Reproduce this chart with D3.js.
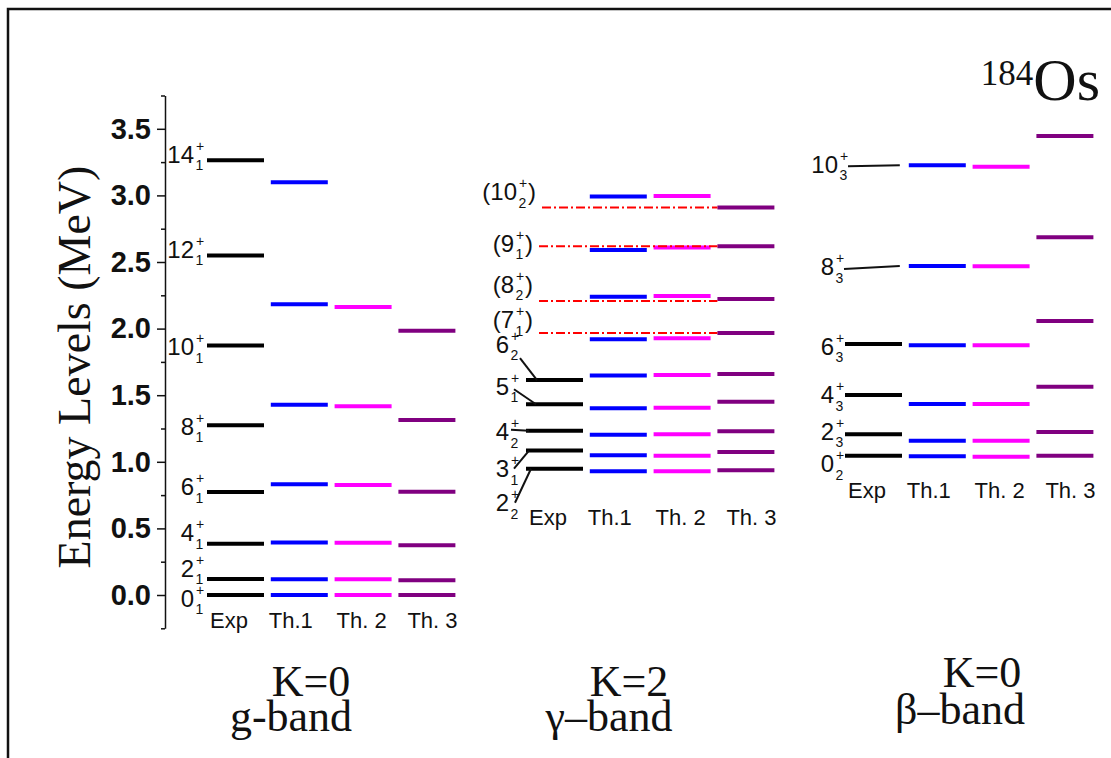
<!DOCTYPE html>
<html>
<head>
<meta charset="utf-8">
<script src="https://cdn.jsdelivr.net/npm/d3@7"></script>
<style>
  body { margin: 0; background: #fff; }
  svg { display: block; }
  .sans { font-family: Arial, "Liberation Sans", sans-serif; fill: #111; }
  .serif { font-family: "Times New Roman", "Liberation Serif", serif; fill: #111; }
</style>
</head>
<body>
<svg id="chart" width="1111" height="758"></svg>
<script>
// ---------------- data (energies in MeV) ----------------
const models = ["Exp", "Th.1", "Th. 2", "Th. 3"];
const yTicks = [0, 0.5, 1, 1.5, 2, 2.5, 3, 3.5];
const yMinorTicks = [-0.25, 0.25, 0.75, 1.25, 1.75, 2.25, 2.75, 3.25, 3.75];

// ground band, K=0
const gSpins = [0, 2, 4, 6, 8, 10, 12, 14];
const gSubs  = [1, 1, 1, 1, 1, 1, 1, 1];
const gExp = [0, 0.120, 0.384, 0.774, 1.275, 1.873, 2.549, 3.264];
const gTh1 = [0, 0.118, 0.395, 0.831, 1.429, 2.182, 3.098];
const gTh2 = [0, 0.118, 0.393, 0.826, 1.417, 2.162];
const gTh3 = [0, 0.110, 0.373, 0.776, 1.314, 1.984];

// gamma band, K=2 (7+ .. 10+ tentative)
const gamSpins = [2, 3, 4, 5, 6, 7, 8, 9, 10];
const gamSubs  = [2, 1, 2, 1, 2, 1, 2, 1, 2];
const gamTentative = [false, false, false, false, false, true, true, true, true];
const gamExp = [0.948, 1.084, 1.234, 1.432, 1.614, 1.967, 2.207, 2.618, 2.909];
const gamTh1 = [0.929, 1.049, 1.204, 1.402, 1.647, 1.920, 2.240, 2.590, 2.991];
const gamTh2 = [0.929, 1.046, 1.206, 1.406, 1.652, 1.927, 2.245, 2.608, 2.995];
const gamTh3 = [0.936, 1.074, 1.229, 1.451, 1.659, 1.967, 2.222, 2.618, 2.909];

// beta band, K=0 (8+ and 10+ not observed)
const betaSpins = [0, 2, 4, 6, 8, 10];
const betaSubs  = [2, 3, 3, 3, 3, 3];
const betaExp = [1.046, 1.206, 1.502, 1.884, null, null];
const betaTh1 = [1.041, 1.158, 1.434, 1.875, 2.470, 3.226];
const betaTh2 = [1.038, 1.158, 1.434, 1.875, 2.468, 3.216];
const betaTh3 = [1.046, 1.224, 1.564, 2.057, 2.685, 3.446];

// ---------------- layout ----------------
const W = 1111, H = 758;
const colors = ["#000000", "#0000ff", "#ff00ff", "#800080"];
const barLen = 57;
const svg = d3.select("#chart");

svg.append("rect").attr("width", W).attr("height", H).attr("fill", "#fff");
// frame edges
svg.append("path").attr("d", `M8,${H} V9 H${W}`).attr("fill", "none")
  .attr("stroke", "#111").attr("stroke-width", 2.5);

const y = d3.scaleLinear().domain([-0.25, 3.75]).range([628.3, 95.5]);
// 14 column slots: g-band 0-3, gamma band 5-8, beta band 10-13
const x = d3.scaleLinear().domain([0, 14]).range([207, 207 + 63.8 * 14]);

// ---------------- axis ----------------
const axisX = 165;
const major = svg.append("g").attr("transform", `translate(${axisX},0)`)
  .call(d3.axisLeft(y).tickValues(yTicks).tickSize(8).tickSizeOuter(0)
    .tickPadding(6).tickFormat(d3.format(".1f")));
const minor = svg.append("g").attr("transform", `translate(${axisX},0)`)
  .call(d3.axisLeft(y).tickValues(yMinorTicks).tickSize(4).tickSizeOuter(0).tickFormat(""));
[major, minor].forEach(a => {
  a.select(".domain").attr("stroke", "#111").attr("stroke-width", 1.5);
  a.selectAll(".tick line").attr("stroke", "#111").attr("stroke-width", 1.5);
});
minor.select(".domain").remove();
major.selectAll(".tick text")
  .attr("class", "sans")
  .style("font-size", "29px").style("font-weight", "bold");

svg.append("text").attr("class", "serif")
  .attr("transform", `translate(90,${367}) rotate(-90)`)
  .attr("text-anchor", "middle")
  .style("font-size", "46px")
  .text("Energy Levels (MeV)");

// ---------------- helpers ----------------
function levelLabel(xr, cy, spin, sub, paren) {
  const g = svg.append("g").attr("class", "sans");
  g.append("text").attr("x", xr).attr("y", cy + 8.5).attr("text-anchor", "end")
    .style("font-size", "24px").text((paren ? "(" : "") + spin);
  g.append("text").attr("x", xr + 2).attr("y", cy - 3.5)
    .style("font-size", "14px").text("+");
  g.append("text").attr("x", xr + 1.5).attr("y", cy + 16)
    .style("font-size", "14px").text(sub);
  if (paren) {
    g.append("text").attr("x", xr + 11).attr("y", cy + 8.5)
      .style("font-size", "24px").text(")");
  }
  return g;
}

function levels(slot, values, color) {
  svg.append("g").selectAll("line")
    .data(values.filter(v => v !== null))
    .join("line")
    .attr("x1", x(slot)).attr("x2", x(slot) + barLen)
    .attr("y1", d => y(d)).attr("y2", d => y(d))
    .attr("stroke", color).attr("stroke-width", 4);
}

function columnLabels(slot0, baseline) {
  const dx = [3, -2, 2, 9];
  svg.append("g").selectAll("text")
    .data(models)
    .join("text")
    .attr("class", "sans")
    .attr("x", (d, i) => x(slot0 + i) + dx[i])
    .attr("y", baseline)
    .style("font-size", "22px")
    .text(d => d);
}

function bandTitle(cx1, b1, cx2, b2, t1, t2) {
  svg.append("text").attr("class", "serif").attr("x", cx1).attr("y", b1)
    .attr("text-anchor", "middle").style("font-size", "44px").text(t1);
  svg.append("text").attr("class", "serif").attr("x", cx2).attr("y", b2)
    .attr("text-anchor", "middle").style("font-size", "44px").text(t2);
}

// ---------------- ground band ----------------
levels(0, gExp, colors[0]);
levels(1, gTh1, colors[1]);
levels(2, gTh2, colors[2]);
levels(3, gTh3, colors[3]);
const gLabelDy = [3, -11, -11, -5, 1, 1, -6, -6];
gSpins.forEach((s, i) => levelLabel(194, y(gExp[i]) + gLabelDy[i], s, gSubs[i], false));
columnLabels(0, 628);
bandTitle(311, 696, 291, 731, "K=0", "g-band");

// ---------------- gamma band ----------------
// confirmed levels as bars, tentative ones as dash-dot lines
levels(5, gamExp.filter((v, i) => !gamTentative[i]), colors[0]);
levels(6, gamTh1, colors[1]);
levels(7, gamTh2, colors[2]);
levels(8, gamTh3, colors[3]);
const gamLabelDy = [34, 18, 1, -18, -36, -13, -17, -3, -16];
// leader lines: start offset from label, end offset from column start
const gamLeader = [
  { sx: 6, sy: 0, ex: 5 },
  { sx: 5, sy: 0, ex: 3 },
  { sx: 2, sy: -2, ex: 3 },
  { sx: 5, sy: 3, ex: 10 },
  { sx: 11, sy: 14, ex: 11 }
];
gamSpins.forEach((s, i) => {
  const ly = y(gamExp[i]);
  const cy = ly + gamLabelDy[i];
  if (gamTentative[i]) {
    const xr = s >= 10 ? 517 : 514;
    const g = levelLabel(xr, cy, s, gamSubs[i], true);
    const bb = g.node().getBBox();
    svg.append("line")
      .attr("x1", Math.max(x(5) + 1, bb.x + bb.width + 6)).attr("x2", x(8))
      .attr("y1", ly).attr("y2", ly)
      .attr("stroke", "#ff0000").attr("stroke-width", 2)
      .attr("stroke-dasharray", "9,3,2,3");
  } else {
    const xr = 509;
    levelLabel(xr, cy, s, gamSubs[i], false);
    const L = gamLeader[i];
    svg.append("line")
      .attr("x1", xr + L.sx).attr("y1", cy + L.sy)
      .attr("x2", x(5) + L.ex).attr("y2", ly)
      .attr("stroke", "#111").attr("stroke-width", 2);
  }
});
columnLabels(5, 525);
bandTitle(629, 696, 609, 731, "K=2", "\u03b3\u2013band");

// ---------------- beta band ----------------
levels(10, betaExp, colors[0]);
levels(11, betaTh1, colors[1]);
levels(12, betaTh2, colors[2]);
levels(13, betaTh3, colors[3]);
const betaLabelDy = [8, -3, 0, 2, 1, -1];
betaSpins.forEach((s, i) => {
  const known = betaExp[i] !== null;
  const ly = y(known ? betaExp[i] : betaTh1[i]);
  const cy = ly + betaLabelDy[i];
  const xr = s >= 10 ? 838 : 834;
  levelLabel(xr, cy, s, betaSubs[i], false);
  if (!known) {
    // pointer from the label to the calculated level
    svg.append("line")
      .attr("x1", xr + 10).attr("y1", cy + 2)
      .attr("x2", x(11) - 9).attr("y2", ly)
      .attr("stroke", "#111").attr("stroke-width", 2);
  }
});
columnLabels(10, 498);
bandTitle(982, 687, 960, 724, "K=0", "\u03b2\u2013band");

// nucleus
const nuc = svg.append("text").attr("class", "serif").attr("x", 1100).attr("y", 100)
  .attr("text-anchor", "end");
nuc.append("tspan").attr("dy", -15).style("font-size", "35px").text("184");
nuc.append("tspan").attr("dy", 15).style("font-size", "60px").text("Os");
</script>
</body>
</html>
